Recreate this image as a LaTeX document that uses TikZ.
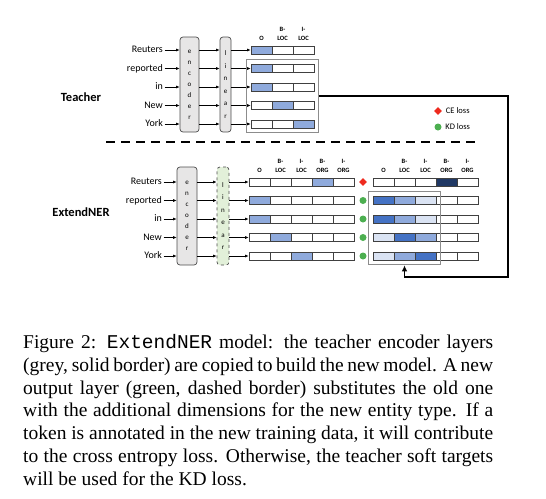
\documentclass[tikz,border=0pt]{standalone}
\usepackage{fontspec}
\setmainfont{Liberation Serif}
\setmonofont{Liberation Mono}
\newfontfamily\carlito{Carlito}
\usetikzlibrary{positioning,fit,arrows.meta,shapes.geometric}

\definecolor{hotblue}{HTML}{8FAADC}
\definecolor{midblue}{HTML}{4472C4}
\definecolor{paleblue}{HTML}{DAE3F3}
\definecolor{navy}{HTML}{203864}
\definecolor{encgrey}{HTML}{E7E6E6}
\definecolor{lingreen}{HTML}{E2F0D9}
\definecolor{kdgreen}{HTML}{4CAF50}
\definecolor{cered}{HTML}{EE2A1E}

\tikzset{
  tokenlbl/.style={anchor=east, inner sep=1.5pt, text height=7pt, text depth=2pt,
    font=\carlito\fontsize{10}{12}\selectfont},
  layerbox/.style={draw=black!70, line width=0.7pt, rounded corners=3pt, inner sep=0pt, align=center},
  enclbl/.style={font=\carlito\fontsize{7}{11}\selectfont},
  linlbl/.style={font=\carlito\fontsize{7}{12.5}\selectfont},
  cell/.style={draw=black!75, line width=0.7pt, minimum width=21pt, minimum height=8pt, inner sep=0pt},
  colhead/.style={inner sep=0pt, align=center, font=\carlito\bfseries\fontsize{6.5}{9}\selectfont},
  feed/.style={line width=0.6pt, -{Latex[length=3.5pt,width=3pt]}},
  outbox/.style={draw=black!45, line width=0.8pt, inner sep=4.5pt},
  kddot/.style={circle, fill=kdgreen, minimum size=7pt, inner sep=0pt},
  cedot/.style={diamond, fill=cered, minimum size=8pt, inner sep=0pt},
  legtext/.style={inner sep=0pt, font=\carlito\fontsize{8.5}{10}\selectfont},
  sidetitle/.style={font=\carlito\bfseries\fontsize{12.5}{15}\selectfont},
}

\begin{document}
\begin{tikzpicture}[x=1pt, y=-1pt]
  \useasboundingbox (0,0) rectangle (546,498);

  % teacher model
  \node[sidetitle] (teacher) at (81,97) {Teacher};
  \node[layerbox, enclbl, fill=encgrey, minimum width=19pt, minimum height=95pt] (tenc) at (189.5,84.5)
    {e\\n\\c\\o\\d\\e\\r};
  \node[layerbox, linlbl, fill=encgrey, minimum width=11pt, minimum height=95pt] (tlin) at (225.5,84.5)
    {l\\i\\n\\e\\a\\r};
  \foreach \i/\tok/\hot in {1/Reuters/1, 2/reported/1, 3/in/1, 4/New/2, 5/York/3}{
    \node[tokenlbl] (ttok\i) at (164.5,31.5+18.5*\i) {\tok};
    \foreach \j in {1,2,3}{
      \ifnum\j=\hot \def\cfill{hotblue}\else\def\cfill{white}\fi
      \node[cell, fill=\cfill] (tc\i-\j) at (240.5+21*\j,31.5+18.5*\i) {};
    }
    \draw[feed] (ttok\i) -- (ttok\i -| tenc.west);
    \draw[feed] (tenc.east |- ttok\i) -- (tlin.west |- ttok\i);
    \draw[feed] (tlin.east |- ttok\i) -- (tc\i-1.west);
  }
  \foreach \j/\lbl in {1/O, 2/{B-\\LOC}, 3/{I-\\LOC}}
    \node[colhead, above=5pt of tc1-\j] (th\j) {\lbl};
  \node[outbox, fit=(tc2-1)(tc5-3)] (tframe) {};

  % legend
  \node[cedot] (celeg) at (438,111) {};
  \node[legtext, right=3.5pt of celeg] (cetxt) {CE loss};
  \node[kddot] (kdleg) at (438,127) {};
  \node[legtext, right=3.5pt of kdleg] (kdtxt) {KD loss};

  % separator
  \draw[line width=1.8pt, dash pattern=on 9pt off 6pt] (106,142) -- (477,142);

  % student model
  \node[sidetitle] (student) at (81,212) {ExtendNER};
  \node[layerbox, enclbl, fill=encgrey, minimum width=20pt, minimum height=98pt] (senc) at (187,216)
    {e\\n\\c\\o\\d\\e\\r};
  \node[layerbox, linlbl, dashed, fill=lingreen, minimum width=12pt, minimum height=98pt] (slin) at (223,216)
    {l\\i\\n\\e\\a\\r};
  \foreach \i/\tok/\hot/\cols in {1/Reuters/4/{white,white,white,navy,white},
    2/reported/1/{midblue,hotblue,paleblue,white,white},
    3/in/1/{midblue,hotblue,paleblue,white,white},
    4/New/2/{paleblue,midblue,hotblue,white,white},
    5/York/3/{paleblue,hotblue,midblue,white,white}}{
    \node[tokenlbl] (stok\i) at (163.5,163.5+18.5*\i) {\tok};
    \foreach \j in {1,...,5}{
      \ifnum\j=\hot \def\cfill{hotblue}\else\def\cfill{white}\fi
      \node[cell, fill=\cfill] (sc\i-\j) at (238.5+21*\j,163.5+18.5*\i) {};
    }
    \foreach \c [count=\j] in \cols
      \node[cell, fill=\c] (sr\i-\j) at (362.5+21*\j,163.5+18.5*\i) {};
    \draw[feed] (stok\i) -- (stok\i -| senc.west);
    \draw[feed] (senc.east |- stok\i) -- (slin.west |- stok\i);
    \draw[feed] (slin.east |- stok\i) -- (sc\i-1.west);
    \ifnum\i=1
      \node[cedot] (sloss\i) at (363,163.5+18.5*\i) {};
    \else
      \node[kddot] (sloss\i) at (363,163.5+18.5*\i) {};
    \fi
  }
  \foreach \j/\lbl in {1/O, 2/{B-\\LOC}, 3/{I-\\LOC}, 4/{B-\\ORG}, 5/{I-\\ORG}}{
    \node[colhead, above=5pt of sc1-\j] (sh\j) {\lbl};
    \node[colhead, above=5pt of sr1-\j] (rh\j) {\lbl};
  }
  \node[outbox, fit=(sr2-1)(sr5-3)] (sframe) {};

  % soft targets go down to the student
  \coordinate (bend) at (508,277);
  \draw[line width=1.7pt, -{Latex[length=6pt,width=5.5pt]}] (tframe.east) -| (bend) -| (sframe.south);

  % caption
  \node[anchor=north west, inner sep=0pt, text width=470pt, align=justify,
    font=\fontsize{19.5}{22.7}\selectfont] (caption) at (23,334.5)
    {Figure 2: \texttt{ExtendNER} model: the teacher encoder layers\linebreak
     (grey, solid border) are copied to build the new model. A new\linebreak
     output layer (green, dashed border) substitutes the old one\linebreak
     with the additional dimensions for the new entity type. If a\linebreak
     token is annotated in the new training data, it will contribute\linebreak
     to the cross entropy loss. Otherwise, the teacher soft targets\linebreak
     will be used for the KD loss.};
\end{tikzpicture}
\end{document}
